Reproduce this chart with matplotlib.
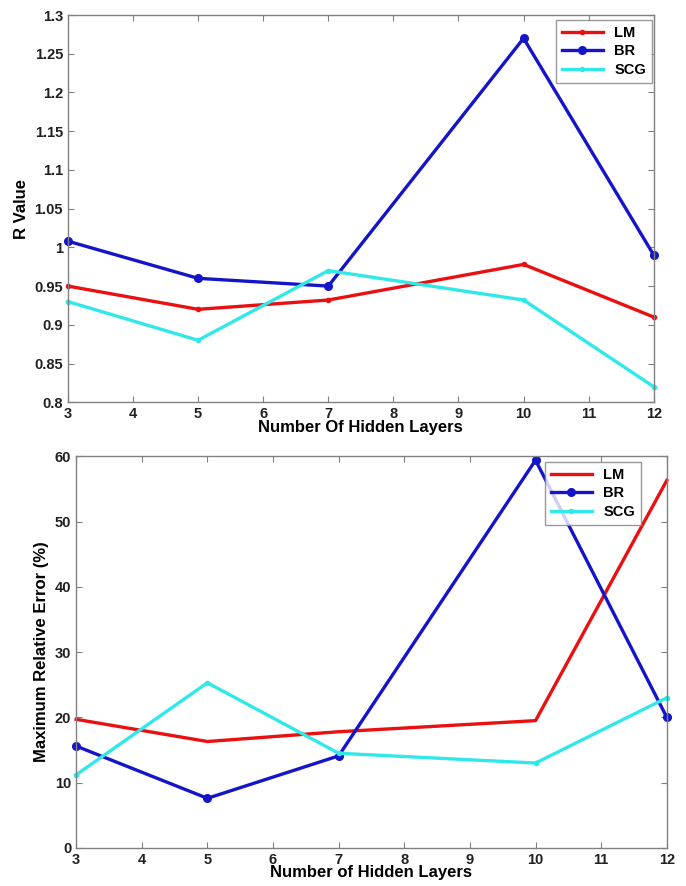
import matplotlib.pyplot as plt

plt.rcParams["font.family"] = ["Liberation Sans", "DejaVu Sans"]
plt.rcParams["font.weight"] = "bold"

hidden_layers = [3, 5, 7, 10, 12]

r_lm = [0.95, 0.92, 0.932, 0.978, 0.91]
r_br = [1.008, 0.96, 0.95, 1.27, 0.99]
r_scg = [0.93, 0.88, 0.97, 0.932, 0.82]

err_lm = [19.7, 16.3, 17.8, 19.5, 56.3]
err_br = [15.6, 7.6, 14.1, 59.4, 20.0]
err_scg = [11.2, 25.3, 14.5, 13.0, 23.0]

red = "#e81010"
blue = "#1414c8"
cyan = "#30e8e8"


def style_axes(ax):
    for s in ax.spines.values():
        s.set_color("#808080")
        s.set_linewidth(1.0)
    ax.tick_params(direction="in", top=True, right=True, color="#808080",
                   length=4, labelsize=10.5, labelcolor="#202020")
    for lab in ax.get_xticklabels() + ax.get_yticklabels():
        lab.set_fontweight("bold")


fig = plt.figure(figsize=(6.86, 8.86), dpi=100)

# top panel: R value
ax1 = fig.add_axes([0.099, 0.546, 0.854, 0.437])
ax1.plot(hidden_layers, r_lm, color=red, lw=2.4, marker="o", ms=3, label="LM", clip_on=False)
ax1.plot(hidden_layers, r_br, color=blue, lw=2.4, marker="o", ms=5.5, label="BR", clip_on=False)
ax1.plot(hidden_layers, r_scg, color=cyan, lw=2.4, marker="o", ms=3, label="SCG", clip_on=False)
ax1.set_xlim(3, 12)
ax1.set_ylim(0.8, 1.3)
ax1.set_xticks(range(3, 13))
ax1.set_yticks([0.8, 0.85, 0.9, 0.95, 1, 1.05, 1.1, 1.15, 1.2, 1.25, 1.3])
ax1.set_yticklabels(["0.8", "0.85", "0.9", "0.95", "1", "1.05", "1.1",
                     "1.15", "1.2", "1.25", "1.3"])
ax1.set_xlabel("Number Of Hidden Layers", fontsize=12, fontweight="bold", labelpad=-1)
ax1.set_ylabel("R Value", fontsize=12, fontweight="bold")
style_axes(ax1)
leg1 = ax1.legend(loc="upper right", bbox_to_anchor=(0.997, 0.987), fancybox=False,
                  edgecolor="#808080", fontsize=10.5, handlelength=2.8,
                  borderaxespad=0, labelspacing=0.3, borderpad=0.4)
leg1.get_frame().set_linewidth(1.0)

# bottom panel: maximum relative error
ax2 = fig.add_axes([0.111, 0.043, 0.861, 0.442])
ax2.plot(hidden_layers, err_lm, color=red, lw=2.4, label="LM", clip_on=False)
ax2.plot(hidden_layers, err_br, color=blue, lw=2.4, marker="o", ms=5.5, label="BR", clip_on=False)
ax2.plot(hidden_layers, err_scg, color=cyan, lw=2.4, marker="o", ms=3, label="SCG", clip_on=False)
ax2.set_xlim(3, 12)
ax2.set_ylim(0, 60)
ax2.set_xticks(range(3, 13))
ax2.set_yticks(range(0, 61, 10))
ax2.set_xlabel("Number of Hidden Layers", fontsize=12, fontweight="bold", labelpad=-1)
ax2.set_ylabel("Maximum Relative Error (%)", fontsize=12, fontweight="bold")
style_axes(ax2)
leg2 = ax2.legend(loc="upper right", bbox_to_anchor=(0.956, 0.985), fancybox=False,
                  edgecolor="#808080", fontsize=10.5, handlelength=2.8,
                  borderaxespad=0, labelspacing=0.3, borderpad=0.4)
leg2.get_frame().set_linewidth(1.0)

fig.savefig("out.png", dpi=100)
